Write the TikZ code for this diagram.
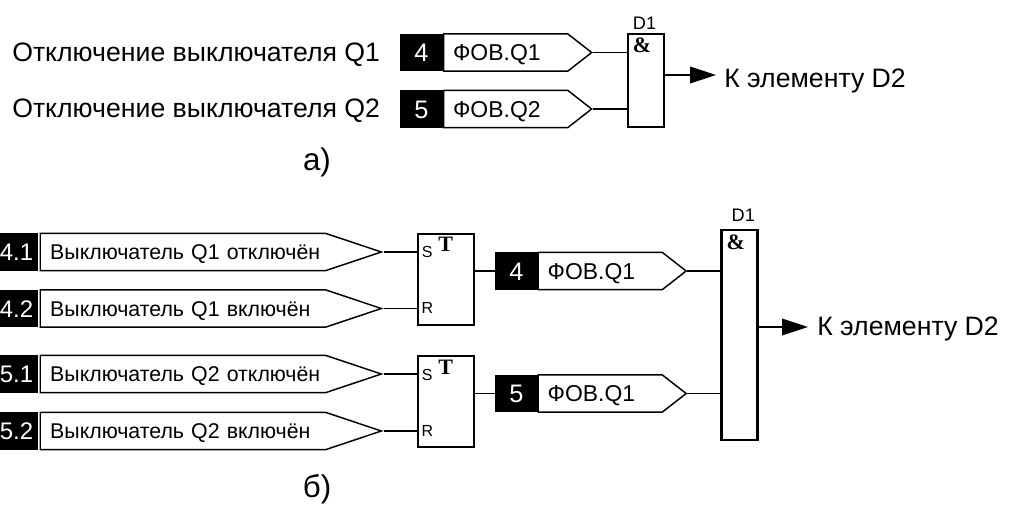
\documentclass[tikz,border=0pt]{standalone}
\usepackage{fontspec}
\setmainfont{Liberation Sans}
\newfontfamily\serifbold[BoldFont={Liberation Serif Bold}]{Liberation Serif}
\usetikzlibrary{arrows.meta,shapes.symbols}
\tikzset{
	num/.style={draw,fill=black,text=white,line width=0.9pt,minimum width=31.5pt,minimum height=27.5pt,inner sep=0pt,text height=13.5pt,text depth=0pt,font=\fontsize{19}{19}\selectfont},
	numsmall/.style={num,text height=12.9pt,font=\fontsize{18}{18}\selectfont},
	tagbox/.style={draw,line width=1.1pt,shape=signal,signal to=east,signal from=nowhere,minimum height=28pt,inner xsep=7pt,inner ysep=0pt,align=left,anchor=west,text depth=0pt},
	shorttag/.style={tagbox,signal pointer angle=76,text width=79pt,text height=12.3pt,font=\fontsize{17.2}{17.2}\selectfont},
	longtag/.style={tagbox,inner xsep=3pt,signal pointer angle=37,text width=208pt,text height=11.5pt,font=\fontsize{16}{16}\selectfont,execute at begin node=\hspace*{4.5pt}},
	blockbox/.style={draw,line width=1.7pt,inner sep=0pt},
	pinlabel/.style={font=\fontsize{12}{12}\selectfont,inner sep=0pt,anchor=base},
	blockname/.style={font=\fontsize{13.6}{13.6}\selectfont,inner sep=0pt,anchor=base},
	boldmark/.style={font=\fontsize{16.5}{16.5}\selectfont\serifbold\bfseries,inner sep=0pt,anchor=base},
	txt/.style={font=\fontsize{20}{20}\selectfont,inner sep=0pt,anchor=base west},
	caption/.style={font=\fontsize{23.5}{23.5}\selectfont,inner sep=0pt,anchor=base},
	wire/.style={line width=1.1pt},
	outwire/.style={line width=1.1pt,-{Triangle[length=19.5pt,width=12.5pt]}}
}
\begin{document}
\begin{tikzpicture}[x=0.75pt,y=-0.75pt]
	\useasboundingbox (0,0) rectangle (1015,504);

	% part a
	\node[txt] (texta1) at (12,61.5) {Отключение выключателя Q1};
	\node[txt] (texta2) at (12,117) {Отключение выключателя Q2};

	\node[num] (numa1) at (421.5,52.5) {4};
	\node[num] (numa2) at (421.5,109) {5};
	\node[shorttag] (taga1) at (443,52.5) {ФОВ.Q1};
	\node[shorttag] (taga2) at (443,109) {ФОВ.Q2};

	\node[blockbox,minimum width=27pt,minimum height=70pt] (da) at (646,80.5) {};
	\node[blockname] (nameda) at (644.5,29) {D1};
	\node[boldmark] (ampa) at (642,52.5) {\&};

	\coordinate (outa) at (716,75);
	\node[txt] (textouta) at (724,87.3) {К элементу D2};

	\draw[wire] (taga1.east) -- (taga1.east -| da.west);
	\draw[wire] (taga2.east) -- (taga2.east -| da.west);
	\draw[outwire] (outa -| da.east) -- (outa);

	\node[caption] (capa) at (317,170.7) {а)};

	% part b
	\node[numsmall] (num1) at (16.5,252) {4.1};
	\node[numsmall] (num2) at (16.5,308.5) {4.2};
	\node[numsmall] (num3) at (16.5,374) {5.1};
	\node[numsmall] (num4) at (16.5,431) {5.2};

	\node[longtag] (tag1) at (39.5,252) {Выключатель Q1 отключён};
	\node[longtag] (tag2) at (39.5,308.5) {Выключатель Q1 включён};
	\node[longtag] (tag3) at (39.5,374) {Выключатель Q2 отключён};
	\node[longtag] (tag4) at (39.5,431) {Выключатель Q2 включён};

	\node[blockbox,minimum width=42.5pt,minimum height=68.5pt] (t1) at (446,279.5) {};
	\node[blockbox,minimum width=42.5pt,minimum height=68.5pt] (t2) at (446,401.5) {};
	\node[pinlabel] (s1) at (427.3,257.7) {S};
	\node[pinlabel] (r1) at (427.3,313.3) {R};
	\node[pinlabel] (s2) at (427.3,380) {S};
	\node[pinlabel] (r2) at (427.3,436) {R};
	\node[boldmark] (mt1) at (445.7,251.7) {T};
	\node[boldmark] (mt2) at (445.7,374.3) {T};

	\draw[wire] (tag1.east) -- (tag1.east -| t1.west);
	\draw[wire] (tag2.east) -- (tag2.east -| t1.west);
	\draw[wire] (tag3.east) -- (tag3.east -| t2.west);
	\draw[wire] (tag4.east) -- (tag4.east -| t2.west);

	\node[num] (num5) at (516.5,271) {4};
	\node[num] (num6) at (516.5,393.5) {5};
	\node[shorttag] (tag5) at (537.5,271) {ФОВ.Q1};
	\node[shorttag] (tag6) at (537.5,393.5) {ФОВ.Q1};

	\draw[wire] (num5.west -| t1.east) -- (num5.west);
	\draw[wire] (num6.west -| t2.east) -- (num6.west);

	\node[blockbox,minimum width=27pt,minimum height=158pt] (db) at (739.5,335) {};
	\node[blockname] (namedb) at (743.3,221) {D1};
	\node[boldmark] (ampb) at (735.8,249) {\&};

	\coordinate (outb) at (808,327);
	\node[txt] (textoutb) at (817,335.7) {К элементу D2};

	\draw[wire] (tag5.east) -- (tag5.east -| db.west);
	\draw[wire] (tag6.east) -- (tag6.east -| db.west);
	\draw[outwire] (outb -| db.east) -- (outb);

	\node[caption] (capb) at (317,497) {б)};
\end{tikzpicture}
\end{document}
